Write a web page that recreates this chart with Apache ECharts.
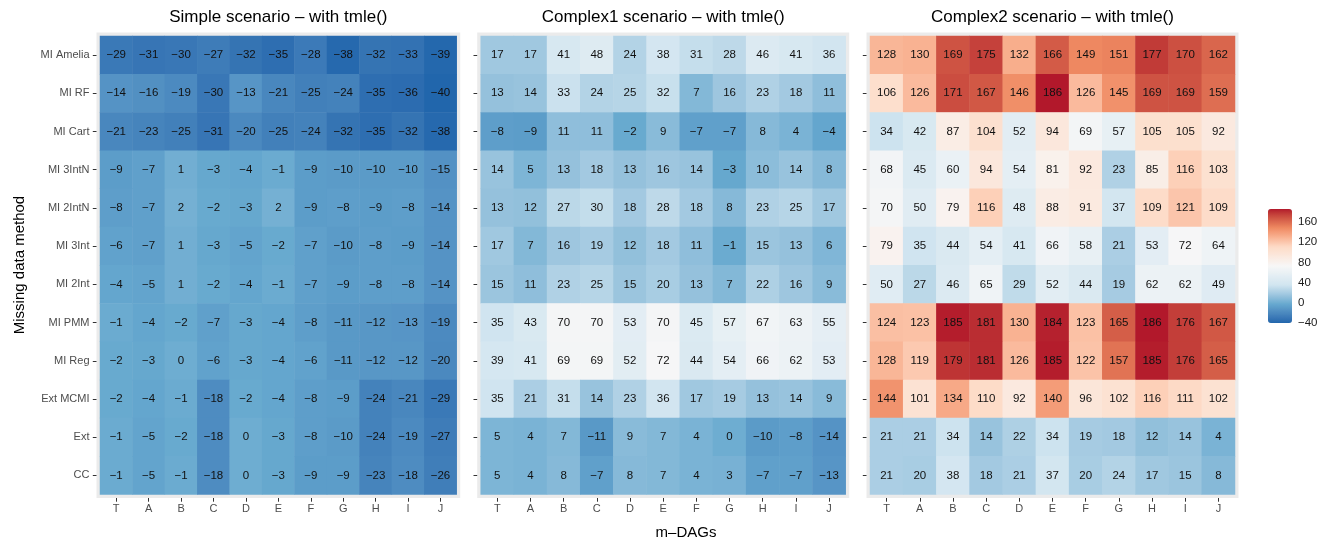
<!DOCTYPE html>
<html>
<head>
<meta charset="utf-8">
<script src="https://cdn.jsdelivr.net/npm/echarts@6/dist/echarts.min.js"></script>
<style>
  html, body { margin: 0; padding: 0; background: #ffffff; }
  #chart { width: 1333px; height: 544px; }
</style>
</head>
<body>
<div id="chart"></div>
<script>
// m-DAG columns and imputation methods (top row first)
const dags = ['T', 'A', 'B', 'C', 'D', 'E', 'F', 'G', 'H', 'I', 'J'];
const methods = ['MI Amelia', 'MI RF', 'MI Cart', 'MI 3IntN', 'MI 2IntN', 'MI 3Int',
                 'MI 2Int', 'MI PMM', 'MI Reg', 'Ext MCMI', 'Ext', 'CC'];

// Rows follow `methods`, columns follow `dags`
const simpleVals = [
  [-29, -31, -30, -27, -32, -35, -28, -38, -32, -33, -39],
  [-14, -16, -19, -30, -13, -21, -25, -24, -35, -36, -40],
  [-21, -23, -25, -31, -20, -25, -24, -32, -35, -32, -38],
  [-9, -7, 1, -3, -4, -1, -9, -10, -10, -10, -15],
  [-8, -7, 2, -2, -3, 2, -9, -8, -9, -8, -14],
  [-6, -7, 1, -3, -5, -2, -7, -10, -8, -9, -14],
  [-4, -5, 1, -2, -4, -1, -7, -9, -8, -8, -14],
  [-1, -4, -2, -7, -3, -4, -8, -11, -12, -13, -19],
  [-2, -3, 0, -6, -3, -4, -6, -11, -12, -12, -20],
  [-2, -4, -1, -18, -2, -4, -8, -9, -24, -21, -29],
  [-1, -5, -2, -18, 0, -3, -8, -10, -24, -19, -27],
  [-1, -5, -1, -18, 0, -3, -9, -9, -23, -18, -26]
];
const complex1Vals = [
  [17, 17, 41, 48, 24, 38, 31, 28, 46, 41, 36],
  [13, 14, 33, 24, 25, 32, 7, 16, 23, 18, 11],
  [-8, -9, 11, 11, -2, 9, -7, -7, 8, 4, -4],
  [14, 5, 13, 18, 13, 16, 14, -3, 10, 14, 8],
  [13, 12, 27, 30, 18, 28, 18, 8, 23, 25, 17],
  [17, 7, 16, 19, 12, 18, 11, -1, 15, 13, 6],
  [15, 11, 23, 25, 15, 20, 13, 7, 22, 16, 9],
  [35, 43, 70, 70, 53, 70, 45, 57, 67, 63, 55],
  [39, 41, 69, 69, 52, 72, 44, 54, 66, 62, 53],
  [35, 21, 31, 14, 23, 36, 17, 19, 13, 14, 9],
  [5, 4, 7, -11, 9, 7, 4, 0, -10, -8, -14],
  [5, 4, 8, -7, 8, 7, 4, 3, -7, -7, -13]
];
const complex2Vals = [
  [128, 130, 169, 175, 132, 166, 149, 151, 177, 170, 162],
  [106, 126, 171, 167, 146, 186, 126, 145, 169, 169, 159],
  [34, 42, 87, 104, 52, 94, 69, 57, 105, 105, 92],
  [68, 45, 60, 94, 54, 81, 92, 23, 85, 116, 103],
  [70, 50, 79, 116, 48, 88, 91, 37, 109, 121, 109],
  [79, 35, 44, 54, 41, 66, 58, 21, 53, 72, 64],
  [50, 27, 46, 65, 29, 52, 44, 19, 62, 62, 49],
  [124, 123, 185, 181, 130, 184, 123, 165, 186, 176, 167],
  [128, 119, 179, 181, 126, 185, 122, 157, 185, 176, 165],
  [144, 101, 134, 110, 92, 140, 96, 102, 116, 111, 102],
  [21, 21, 34, 14, 22, 34, 19, 18, 12, 14, 4],
  [21, 20, 38, 18, 21, 37, 20, 24, 17, 15, 8]
];

const panelTitles = ['Simple scenario – with tmle()', 'Complex1 scenario – with tmle()', 'Complex2 scenario – with tmle()'];
const legendTicks = [-40, 0, 40, 80, 120, 160];
const fillMin = -40;
const fillMax = 186;

// RdBu (7 classes), low -> high
const rdbu = ['#2166AC', '#67A9CF', '#D1E5F0', '#F7F7F7', '#FDDBC7', '#EF8A62', '#B2182B'];

// --- CIELAB ramp so the gradient blends like a Lab colour ramp ---
function hexToRgb(h) {
  const n = parseInt(h.slice(1), 16);
  return [(n >> 16) & 255, (n >> 8) & 255, n & 255];
}
function srgbToLin(c) { c /= 255; return c <= 0.04045 ? c / 12.92 : Math.pow((c + 0.055) / 1.055, 2.4); }
function linToSrgb(c) { const v = c <= 0.0031308 ? 12.92 * c : 1.055 * Math.pow(c, 1 / 2.4) - 0.055; return Math.max(0, Math.min(255, Math.round(v * 255))); }
const WX = 0.95047, WY = 1.0, WZ = 1.08883;
function fLab(t) { return t > 216 / 24389 ? Math.cbrt(t) : (24389 / 27 * t + 16) / 116; }
function fInv(t) { const t3 = t * t * t; return t3 > 216 / 24389 ? t3 : (116 * t - 16) / (24389 / 27); }
function rgbToLab(rgb) {
  const [r, g, b] = rgb.map(srgbToLin);
  const x = (0.4124 * r + 0.3576 * g + 0.1805 * b) / WX;
  const y = (0.2126 * r + 0.7152 * g + 0.0722 * b) / WY;
  const z = (0.0193 * r + 0.1192 * g + 0.9505 * b) / WZ;
  const fx = fLab(x), fy = fLab(y), fz = fLab(z);
  return [116 * fy - 16, 500 * (fx - fy), 200 * (fy - fz)];
}
function labToHex(lab) {
  const fy = (lab[0] + 16) / 116, fx = fy + lab[1] / 500, fz = fy - lab[2] / 200;
  const x = fInv(fx) * WX, y = fInv(fy) * WY, z = fInv(fz) * WZ;
  const r = 3.2406 * x - 1.5372 * y - 0.4986 * z;
  const g = -0.9689 * x + 1.8758 * y + 0.0415 * z;
  const b = 0.0557 * x - 0.2040 * y + 1.0570 * z;
  return '#' + [r, g, b].map(linToSrgb).map(v => v.toString(16).padStart(2, '0')).join('');
}
function labRamp(stops, n) {
  const labs = stops.map(s => rgbToLab(hexToRgb(s)));
  const out = [];
  for (let i = 0; i < n; i++) {
    const t = i / (n - 1) * (labs.length - 1);
    const k = Math.min(Math.floor(t), labs.length - 2);
    const f = t - k;
    out.push(labToHex(labs[k].map((v, j) => v + (labs[k + 1][j] - v) * f)));
  }
  return out;
}
const rampColors = labRamp(rdbu, 61);

function toCells(vals) {
  const cells = [];
  vals.forEach((row, yi) => row.forEach((v, xi) => cells.push([xi, yi, v])));
  return cells;
}
const fmtNum = v => (v < 0 ? '\u2212' + Math.abs(v) : String(v));

const FONT = 'Liberation Sans, Arial, Helvetica, sans-serif';
const panelLeft = [100, 480.7, 870];
const panelWidth = [356.7, 365, 365];
const panelTop = 36;
const panelHeight = 458.5;

const grids = [], xAxes = [], yAxes = [], series = [];
[simpleVals, complex1Vals, complex2Vals].forEach((vals, i) => {
  grids.push({
    left: panelLeft[i], top: panelTop, width: panelWidth[i], height: panelHeight,
    show: true, backgroundColor: '#EBEBEB', borderColor: '#EBEBEB', borderWidth: 7
  });
  xAxes.push({
    type: 'category', gridIndex: i, data: dags, position: 'bottom', offset: 3.5,
    axisLine: { show: false },
    axisTick: { show: true, alignWithLabel: true, length: 3.7, lineStyle: { color: '#333333', width: 1 } },
    axisLabel: { color: '#4D4D4D', fontSize: 11, fontFamily: FONT, margin: 5 },
    splitLine: { show: false }
  });
  yAxes.push({
    type: 'category', gridIndex: i, data: methods, inverse: true, position: 'left', offset: 3.5,
    axisLine: { show: false },
    axisTick: { show: true, alignWithLabel: true, length: 3.7, lineStyle: { color: '#333333', width: 1 } },
    axisLabel: { show: i === 0, color: '#4D4D4D', fontSize: 11, fontFamily: FONT, margin: 7 },
    splitLine: { show: false }
  });
  series.push({
    type: 'heatmap', xAxisIndex: i, yAxisIndex: i, data: toCells(vals),
    label: {
      show: true, color: '#111111', fontSize: 11.5, fontFamily: FONT,
      formatter: p => fmtNum(p.value[2])
    },
    itemStyle: { borderWidth: 0 },
    emphasis: { disabled: true }
  });
});

// Colour bar tick/label axes
const barLeft = 1268, barTop = 209, barW = 24, barH = 114;
grids.push({ left: barLeft, top: barTop, width: barW, height: barH, show: false });
xAxes.push({ type: 'value', gridIndex: 3, min: 0, max: 1, show: false });
yAxes.push({
  type: 'value', gridIndex: 3, min: fillMin, max: fillMax, position: 'right',
  axisLine: { show: false }, splitLine: { show: false },
  axisTick: { show: true, inside: true, length: 5, customValues: legendTicks, lineStyle: { color: '#ffffff', width: 1 } },
  axisLabel: { show: true, customValues: legendTicks, color: '#1a1a1a', fontSize: 11.5, fontFamily: FONT, margin: 6,
               formatter: v => fmtNum(v) }
});
yAxes.push({
  type: 'value', gridIndex: 3, min: fillMin, max: fillMax, position: 'left',
  axisLine: { show: false }, splitLine: { show: false },
  axisTick: { show: true, inside: true, length: 5, customValues: legendTicks, lineStyle: { color: '#ffffff', width: 1 } },
  axisLabel: { show: false }
});

const titleTexts = panelTitles.map((t, i) => ({
  type: 'text', x: panelLeft[i] + panelWidth[i] / 2, y: 17,
  style: { text: t, fill: '#000000', font: '17px ' + FONT, textAlign: 'center', textVerticalAlign: 'middle' },
  z: 10
}));

const chart = echarts.init(document.getElementById('chart'), null, { renderer: 'canvas' });
chart.setOption({
  animation: false,
  backgroundColor: '#ffffff',
  grid: grids,
  xAxis: xAxes,
  yAxis: yAxes,
  visualMap: {
    type: 'continuous', min: fillMin, max: fillMax, seriesIndex: [0, 1, 2],
    inRange: { color: rampColors },
    orient: 'vertical', left: barLeft, top: barTop, itemWidth: barW, itemHeight: barH,
    padding: 0, calculable: false, hoverLink: false, text: null, show: true, z: 1
  },
  series: series,
  graphic: titleTexts.concat([
    {
      type: 'text', x: 686, y: 533,
      style: { text: 'm–DAGs', fill: '#000000', font: '15px ' + FONT, textAlign: 'center', textVerticalAlign: 'middle' }
    },
    {
      type: 'text', x: 20, y: 265, rotation: Math.PI / 2,
      style: { text: 'Missing data method', fill: '#000000', font: '15px ' + FONT, textAlign: 'center', textVerticalAlign: 'middle' }
    }
  ])
});
</script>
</body>
</html>
